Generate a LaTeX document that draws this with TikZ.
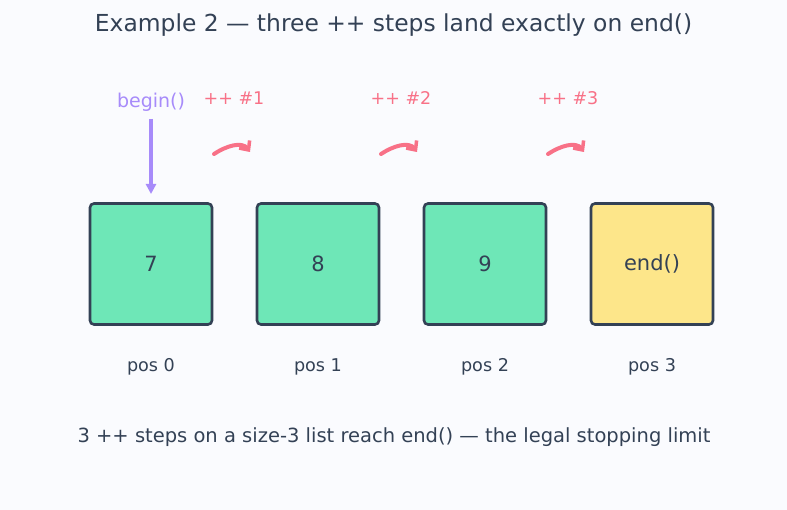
\documentclass[tikz,border=0pt]{standalone}
\usepackage{fontspec}
\setmainfont{DejaVu Sans}
\usetikzlibrary{arrows.meta}
\definecolor{bg}{HTML}{FAFBFE}
\definecolor{ink}{HTML}{334155}
\definecolor{cellg}{HTML}{6EE7B7}
\definecolor{celly}{HTML}{FDE68A}
\definecolor{vio}{HTML}{A78BFA}
\definecolor{rose}{HTML}{F87187}
\begin{document}
\begin{tikzpicture}[x=1pt,y=-1pt,
  cell/.style={draw=ink, line width=2.6pt, rounded corners=4pt, minimum width=122pt, minimum height=121pt, inner sep=0pt, text=ink, font=\fontsize{21}{24}\selectfont},
  poslbl/.style={text=ink, font=\fontsize{17.6}{20}\selectfont},
  steplbl/.style={text=rose, font=\fontsize{17.5}{20}\selectfont},
  steparrow/.style={draw=rose, line width=4pt, line cap=round, -{Straight Barb[length=7pt,width=13pt,line width=3.5pt]}}]
\fill[bg] (0,0) rectangle (787,510);
\useasboundingbox (0,0) rectangle (787,510);
\node[text=ink, font=\fontsize{23.4}{27}\selectfont] (title) at (393.5,25) {Example 2 — three ++ steps land exactly on end()};
\node[cell, fill=cellg] (c0) at (151,264) {7};
\node[cell, fill=cellg] (c1) at (318,264) {8};
\node[cell, fill=cellg] (c2) at (485,264) {9};
\node[cell, fill=celly] (c3) at (652,264) {end()};
\node[poslbl] (p0) at (151,367) {pos 0};
\node[poslbl] (p1) at (318,367) {pos 1};
\node[poslbl] (p2) at (485,367) {pos 2};
\node[poslbl] (p3) at (652,367) {pos 3};
\node[text=vio, font=\fontsize{19}{22}\selectfont] (beg) at (151,102) {begin()};
\draw[vio, line width=3.2pt, -{Triangle[length=10pt,width=10pt]}] (151,119) -- (c0.north |- 0,194);
\foreach \i/\x in {1/234,2/401,3/568}{
  \node[steplbl] (s\i) at (\x,98) {++ \#\i};
  \coordinate (a\i) at (\x-20,154);
  \coordinate (b\i) at (\x+16,152);
  \draw[steparrow] (a\i) .. controls (\x-8,146) and (\x+8,141) .. (b\i);
}
\node[text=ink, font=\fontsize{19.5}{23}\selectfont] (foot) at (394,437) {3 ++ steps on a size-3 list reach end() — the legal stopping limit};
\end{tikzpicture}
\end{document}
